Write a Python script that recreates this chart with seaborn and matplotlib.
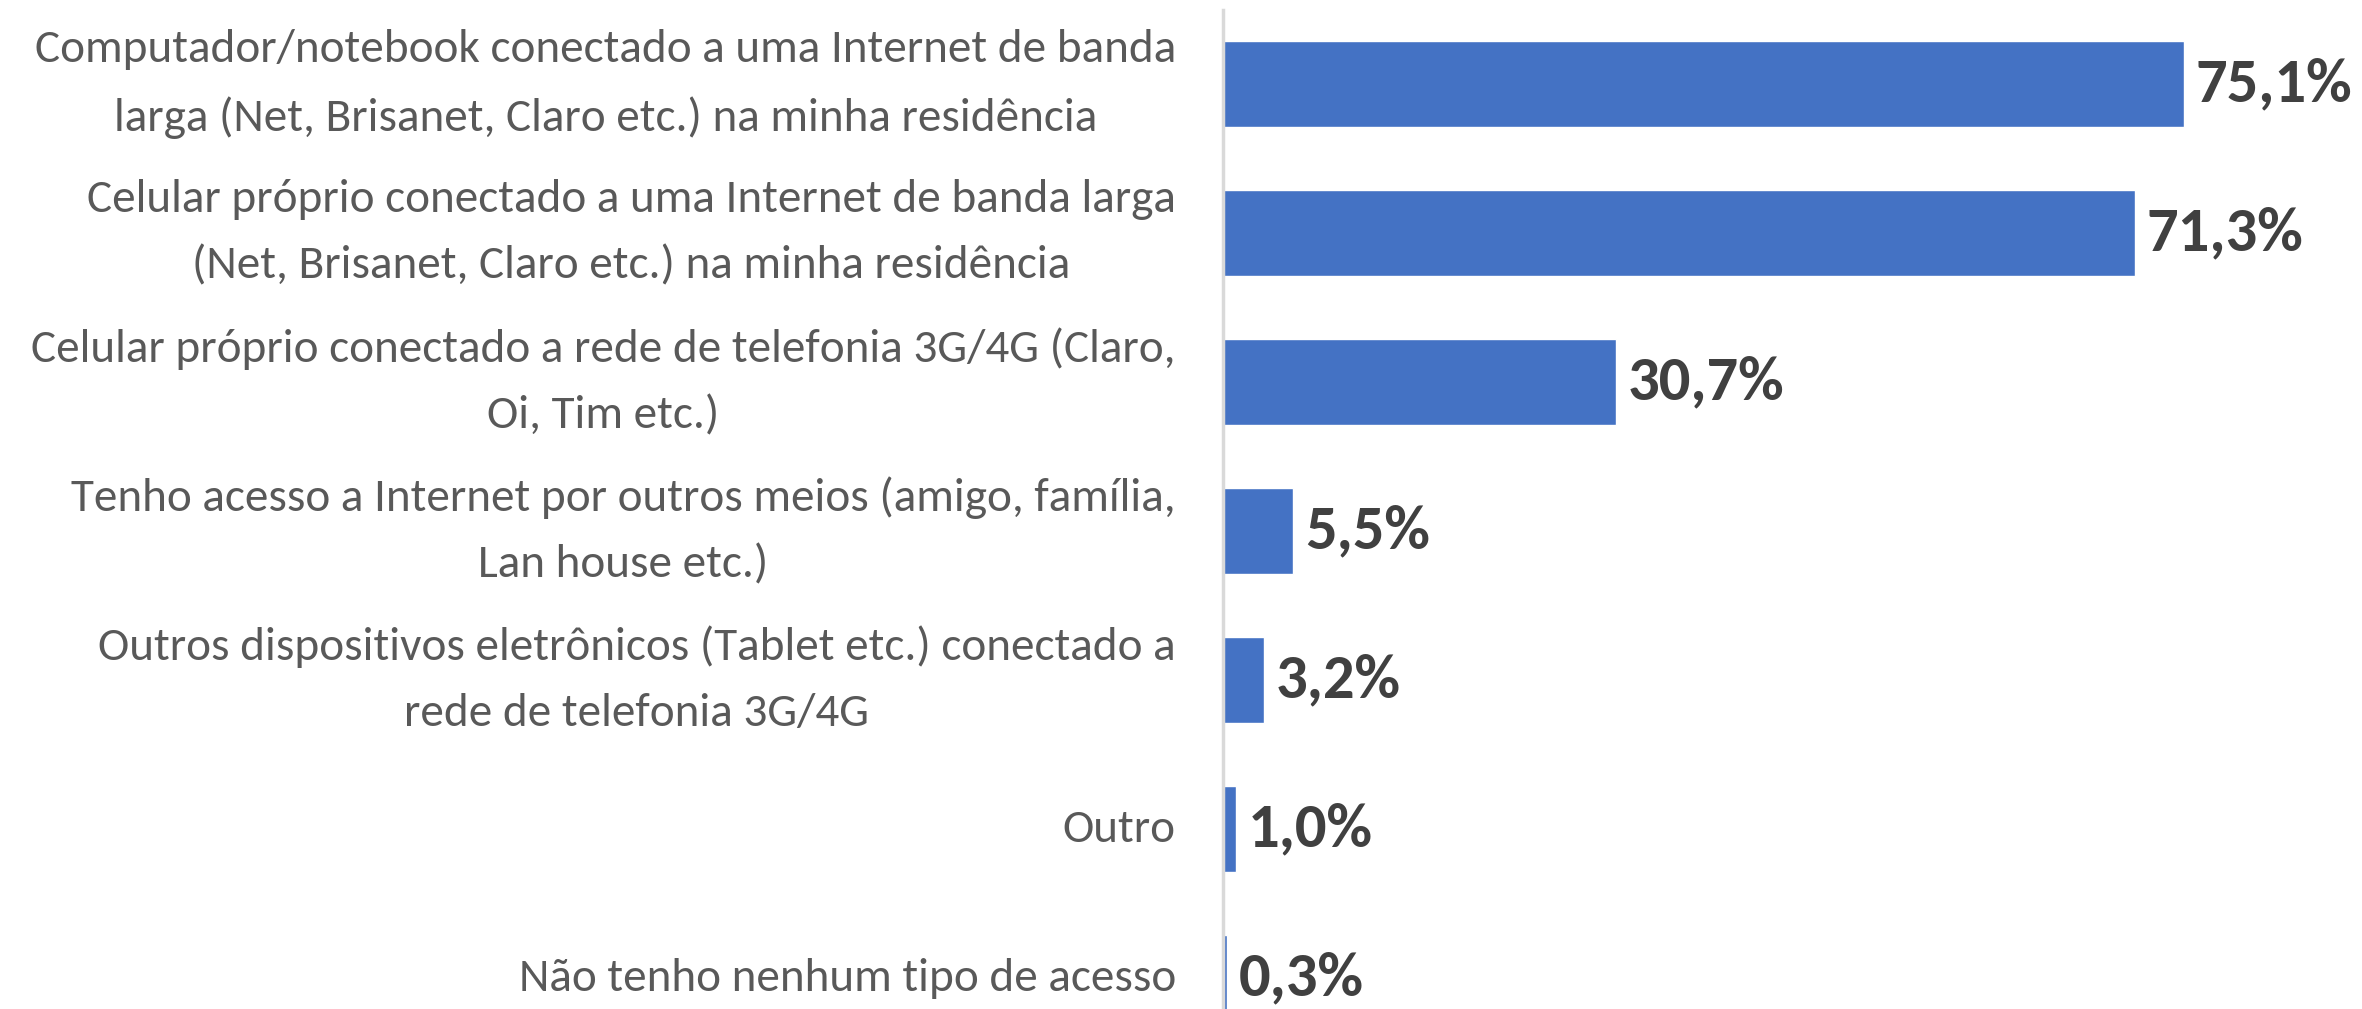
import matplotlib
matplotlib.use("Agg")
import matplotlib.pyplot as plt
import seaborn as sns
import pandas as pd

# Categories (wrapped like in the original chart) and percentages
categorias = [
    "Computador/notebook conectado a uma Internet de banda\nlarga (Net, Brisanet, Claro etc.) na minha residência",
    "Celular próprio conectado a uma Internet de banda larga\n(Net, Brisanet, Claro etc.) na minha residência",
    "Celular próprio conectado a rede de telefonia 3G/4G (Claro,\nOi, Tim etc.)",
    "Tenho acesso a Internet por outros meios (amigo, família,\nLan house etc.)",
    "Outros dispositivos eletrônicos (Tablet etc.) conectado a\nrede de telefonia 3G/4G",
    "Outro",
    "Não tenho nenhum tipo de acesso",
]
percentuais = [75.1, 71.3, 30.7, 5.5, 3.2, 1.0, 0.3]

df = pd.DataFrame({"categoria": categorias, "pct": percentuais})

sns.set_style("white")
FONTES = ['Carlito', 'Lato', 'DejaVu Sans']
plt.rcParams['font.family'] = FONTES

W, H = 2362, 1009
fig = plt.figure(figsize=(W / 100, H / 100), dpi=100)
# plot area: left edge at the axis line, bottom runs past the figure (cropped like the reference)
ax = fig.add_axes([1223 / W, (H - 1052.5) / H, 1 - 1223 / W, 1043 / H])

sns.barplot(data=df, x="pct", y="categoria", orient="h", color="#4472C4",
            saturation=1, width=0.58, ax=ax)

ax.set_xlim(0, 89)
ax.set_xlabel("")
ax.set_ylabel("")
ax.set_xticks([])

for s in ["top", "right", "bottom"]:
    ax.spines[s].set_visible(False)
ax.spines["left"].set_color("#D9D9D9")
ax.spines["left"].set_linewidth(2.5)

ax.tick_params(axis="y", length=0, pad=34, labelsize=34, labelcolor="#595959")
for t in ax.get_yticklabels():
    t.set_multialignment("center")
    t.set_verticalalignment("center")
    t.set_linespacing(1.75)

# value labels
for i, v in enumerate(percentuais):
    ax.text(v + 0.9, i, f"{v:.1f}%".replace(".", ","), va="center", ha="left",
            fontsize=45, fontweight="bold", color="#404040", family=FONTES)

fig.savefig("out.png", dpi=100)
